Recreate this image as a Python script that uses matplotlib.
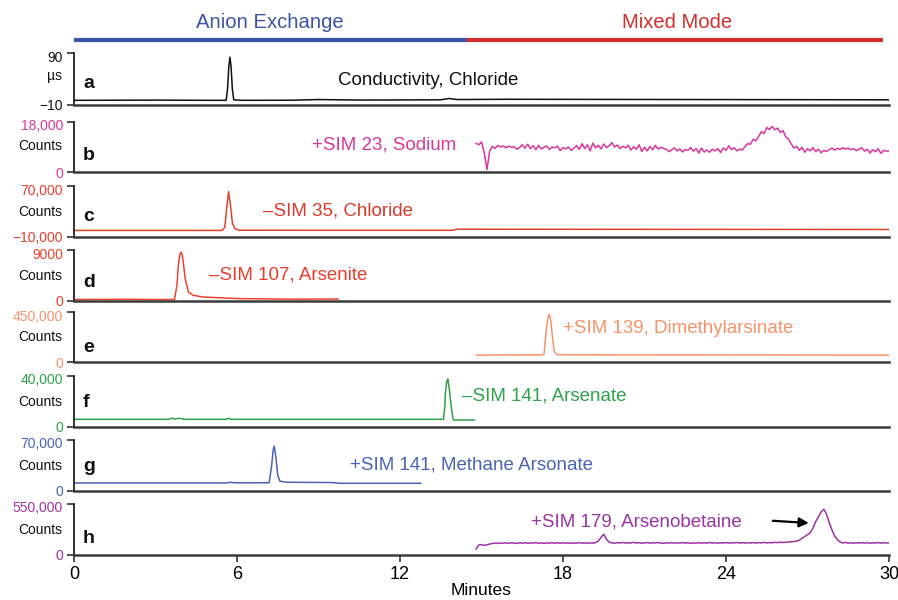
"""Stacked ion chromatogram / SIM traces (anion exchange -> mixed mode)."""
import numpy as np
import matplotlib
matplotlib.use("Agg")
import matplotlib.pyplot as plt
import matplotlib.transforms as mtransforms

plt.rcParams["font.family"] = ["Liberation Sans", "DejaVu Sans"]

# ---- data ----------------------------------------------------------------
# a: conductivity, chloride (uS)
a_t = [0, 3.0, 5.0, 5.60, 5.65, 5.70, 5.74, 5.78, 5.83, 5.88, 6.2, 8.0, 9.0, 10.5,
       13.5, 13.8, 14.1, 16.0, 30.0]
a_v = [-1, -0.6, -1, -1, 20, 65, 82, 65, 20, 0, -1, -0.8, 0.5, -0.5,
       0, 2.5, 0.5, 1, 0]

# b: +SIM 23 sodium (counts), 0.1 min grid from 14.8 to 30.0
na_start, na_end = 14.8, 30.0
na_v = [10300, 9800, 10800, 7000, 900, 7500, 9200, 8500, 9600, 9000,
        9400, 8700, 9300, 8900, 9100, 8200, 8800, 9800, 8600, 10000,
        8400, 9500, 8000, 9600, 8300, 8900, 9400, 8100, 9000, 8700,
        9300, 7700, 8800, 8300, 9000, 7800, 8600, 9500, 8100, 10200,
        8400, 9800, 7600, 10400, 8700, 9600, 8300, 10100, 8800, 9400,
        10600, 9000, 9700, 8400, 9300, 8700, 9600, 7900, 9100, 8200,
        9800, 7400, 8900, 7600, 9200, 8000, 9600, 8300, 8900, 8500,
        8200, 7300, 8000, 8700, 7600, 8300, 7200, 8100, 7800, 8800,
        7500, 8400, 6800, 8600, 7200, 7900, 7100, 8200, 7600, 8400,
        7000, 8600, 7800, 9400, 8100, 8700, 7600, 8300, 7900, 9200,
        10200, 10000, 11800, 11200, 12800, 14500, 13800, 16000, 15300, 16400,
        15200, 15800, 14200, 14900, 12600, 11900, 10100, 8600, 9200, 7800,
        8900, 7100, 8400, 7600, 8800, 7300, 8200, 6900, 7800, 7400,
        8000, 8600, 7900, 8500, 8200, 8700, 8300, 8600, 8000, 8400,
        7700, 8300, 8700, 7500, 8200, 6800, 8000, 7300, 8400, 6700,
        7800, 7500, 7600]

# c: -SIM 35 chloride (thousand counts)
c_t = [0, 5.45, 5.55, 5.62, 5.69, 5.76, 5.83, 5.92, 6.1, 13.9, 14.1, 30.0]
c_v = [0.3, 0.3, 5, 35, 61, 40, 12, 3, 0.6, 0.5, 2.2, 1.8]

# d: -SIM 107 arsenite (counts)
d_t = [0, 2.0, 3.0, 3.70, 3.79, 3.84, 3.90, 3.96, 4.02, 4.09, 4.21, 4.39, 4.76,
       6.1, 8.0, 9.72]
d_v = [250, 300, 250, 280, 2800, 6300, 8300, 8600, 7000, 4000, 1600, 1000, 700,
       420, 330, 350]

# e: +SIM 139 dimethylarsinate (thousand counts)
e_t = [14.82, 17.2, 17.3, 17.39, 17.44, 17.49, 17.55, 17.61, 17.68, 17.78, 20.0, 30.0]
e_v = [62, 64, 70, 300, 390, 430, 380, 228, 94, 66, 64, 62]

# f: -SIM 141 arsenate (thousand counts)
f_t = [0, 3.5, 3.6, 3.7, 3.85, 3.95, 4.05, 5.6, 5.7, 5.8, 13.60, 13.65, 13.67,
       13.69, 13.72, 13.76, 13.82, 13.87, 13.91, 13.95, 13.97, 14.74]
f_v = [6, 6, 7, 6.2, 6.8, 6.6, 6, 6, 6.8, 6, 6, 15.9, 26.4,
       30.3, 35.5, 37.6, 29, 18.6, 12, 6.8, 5.5, 5.5]

# g: +SIM 141 methane arsonate (thousand counts)
g_t = [0, 5.6, 5.74, 5.9, 7.18, 7.27, 7.33, 7.37, 7.43, 7.50, 7.58, 7.83, 9.5,
       9.8, 12.76]
g_v = [11, 11, 12, 11.3, 11.3, 33, 56, 61.7, 47, 21.7, 13.4, 12, 11.6,
       10.6, 10.6]

# h: +SIM 179 arsenobetaine (thousand counts), 0.1 min grid 14.8 -> 30.0
h_start, h_end = 14.8, 30.0
h_v = [64, 108, 112, 104, 110, 118, 124, 128, 125, 130,
       127, 131, 126, 132, 128, 125, 131, 127, 133, 126,
       130, 128, 134, 127, 131, 125, 130, 128, 133, 127,
       131, 126, 132, 128, 130, 125, 131, 128, 133, 127,
       130, 126, 131, 128, 134, 150, 190, 224, 170, 138,
       131, 127, 133, 129, 135, 128, 132, 130, 136, 129,
       133, 127, 131, 134, 128, 132, 130, 135, 129, 126,
       131, 128, 133, 127, 131, 129, 134, 128, 132, 126,
       130, 128, 133, 127, 131, 129, 135, 128, 132, 127,
       131, 129, 134, 128, 132, 130, 135, 129, 133, 128,
       132, 130, 134, 129, 133, 131, 136, 130, 134, 132,
       137, 133, 138, 135, 138, 140, 142, 145, 150, 160,
       180, 200, 220, 240, 290, 360, 410, 465, 493, 440,
       350, 270, 205, 165, 140, 130, 135, 128, 132, 127,
       131, 129, 134, 128, 132, 127, 131, 129, 134, 128,
       132, 130, 130]

# panel meta
letters = ["a", "b", "c", "d", "e", "f", "g", "h"]
ylims = [(-10, 90), (0, 18000), (-10, 70), (0, 9000), (0, 450), (0, 40), (0, 70), (0, 550)]
ytick_labels = [["\u221210", "90"], ["0", "18,000"], ["\u221210,000", "70,000"],
                ["0", "9000"], ["0", "450,000"], ["0", "40,000"], ["0", "70,000"],
                ["0", "550,000"]]
units = ["\u00b5s", "Counts", "Counts", "Counts", "Counts", "Counts", "Counts", "Counts"]
trace_labels = ["Conductivity, Chloride", "+SIM 23, Sodium", "\u2013SIM 35, Chloride",
                "\u2013SIM 107, Arsenite", "+SIM 139, Dimethylarsinate",
                "\u2013SIM 141, Arsenate", "+SIM 141, Methane Arsonate",
                "+SIM 179, Arsenobetaine"]
colors = ["#111111", "#d6389c", "#e0412f", "#f0412f", "#f7936b", "#2ea24a",
          "#4a63b5", "#9b34a2"]
label_colors = ["#111111", "#d6389c", "#d9392b", "#ee3b2c", "#f7936b", "#2ea24a",
                "#4a63b5", "#9b34a2"]

# layout (pixel rows of each panel, top/bottom) and text placement
rows_px = [(53, 105), (122, 172), (186, 237), (250, 301), (312, 362), (376, 427),
           (440, 491), (504, 555)]
label_pos = [(9.72, 0.48), (8.76, 0.54), (6.96, 0.51), (4.97, 0.51), (18.0, 0.68),
             (14.27, 0.61), (10.16, 0.50), (16.84, 0.65)]
letter_y = [0.32, 0.23, 0.31, 0.27, 0.21, 0.39, 0.40, 0.23]
unit_y = [0.56, 0.52, 0.5, 0.5, 0.5, 0.5, 0.5, 0.5]

W, H = 898, 600
L_PX, R_PX = 74, 889

traces = [
    (a_t, a_v),
    (np.linspace(na_start, na_end, len(na_v)), na_v),
    (c_t, c_v),
    (d_t, d_v),
    (e_t, e_v),
    (f_t, f_v),
    (g_t, g_v),
    (np.linspace(h_start, h_end, len(h_v)), h_v),
]

fig = plt.figure(figsize=(W / 100, H / 100), dpi=100)
# top tick labels sit a little below their tick in the original
down = mtransforms.ScaledTranslation(0, -3 / 100, fig.dpi_scale_trans)

axes = []
for i, (top, bot) in enumerate(rows_px):
    ax = fig.add_axes([L_PX / W, 1 - bot / H, (R_PX - L_PX) / W, (bot - top) / H])
    t, v = traces[i]
    ax.plot(t, v, color=colors[i], lw=1.1)
    ax.set_xlim(0, 30)
    ax.set_ylim(*ylims[i])
    for s in ("top", "right"):
        ax.spines[s].set_visible(False)
    ax.spines["left"].set_linewidth(1.3)
    ax.spines["left"].set_color("#222222")
    ax.spines["bottom"].set_linewidth(1.8)
    ax.spines["bottom"].set_color("#3a3a3a")
    ax.set_yticks(list(ylims[i]))
    ax.set_yticklabels(ytick_labels[i])
    ax.tick_params(axis="y", direction="out", length=5, width=1.1, pad=3,
                   labelsize=10, labelcolor=colors[i], color="#222222")
    top_lbl = ax.get_yticklabels()[1]
    top_lbl.set_transform(top_lbl.get_transform() + down)
    ax.text(-0.015, unit_y[i], units[i], transform=ax.transAxes, ha="right",
            va="center", fontsize=10, color="#111111")
    ax.text(0.011, letter_y[i], letters[i], transform=ax.transAxes, ha="left",
            va="baseline", fontsize=14, fontweight="bold", color="#111111")
    lx, ly = label_pos[i]
    ax.text(lx, ly, trace_labels[i], transform=ax.get_xaxis_transform(),
            ha="left", va="center", fontsize=13.5, color=label_colors[i])
    if i < 7:
        ax.tick_params(axis="x", bottom=False, labelbottom=False)
    axes.append(ax)

ax_h = axes[-1]
ax_h.set_xticks([0, 6, 12, 18, 24, 30])
ax_h.tick_params(axis="x", direction="out", length=5, width=1.1, pad=3,
                 labelsize=13, color="#222222")
ax_h.set_xlabel("Minutes", fontsize=12.5, labelpad=0)
ax_h.annotate("", xy=(27.15, 343), xytext=(25.62, 371),
              arrowprops=dict(arrowstyle="-|>", color="black", lw=1.6,
                              mutation_scale=14))

# header: separation mode bars
hdr = fig.add_axes([L_PX / W, 1 - 48 / H, (R_PX - L_PX) / W, 48 / H])
hdr.set_xlim(0, 30)
hdr.set_ylim(0, 1)
hdr.axis("off")
hdr.plot([0, 14.46], [0.167, 0.167], color="#3b55a5", lw=3, solid_capstyle="butt")
hdr.plot([14.46, 29.78], [0.167, 0.167], color="#d3302b", lw=3, solid_capstyle="butt")
hdr.text(7.21, 0.54, "Anion Exchange", ha="center", va="center", fontsize=14.6,
         color="#3b55a5")
hdr.text(22.19, 0.54, "Mixed Mode", ha="center", va="center", fontsize=14.6,
         color="#d3302b")

fig.savefig("out.png", dpi=100)
